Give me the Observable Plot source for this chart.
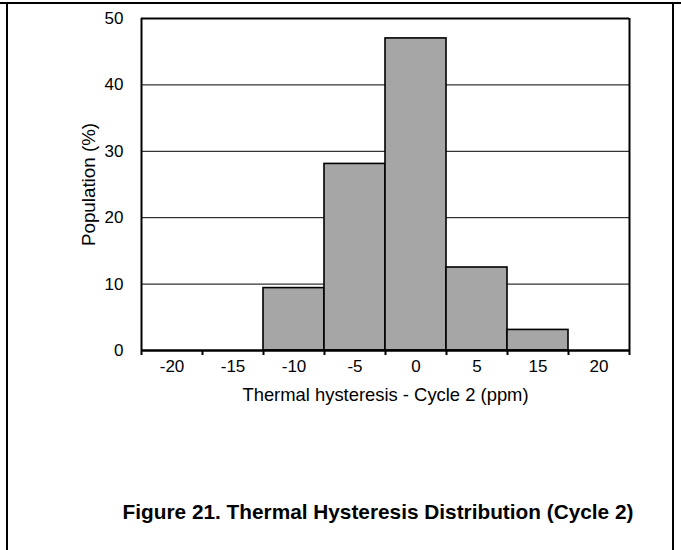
<!DOCTYPE html>
<html><head><meta charset="utf-8">
<script src="https://cdn.jsdelivr.net/npm/d3@7"></script>
<script src="https://cdn.jsdelivr.net/npm/@observablehq/plot@0.6"></script>
<style>
body{margin:0;background:#fff;font-family:"Liberation Sans",Arial,sans-serif;}
#page{position:absolute;left:0;top:0;width:681px;height:550px;overflow:hidden;}
#topline{position:absolute;left:0;top:2px;width:681px;height:0;border-top:2px solid #000;}
#border{position:absolute;left:6px;top:2px;width:668px;height:560px;box-sizing:border-box;border-left:2px solid #000;border-right:2px solid #000;}
#chart{position:absolute;left:0;top:0;}
#caption{position:absolute;left:0;width:756px;top:500px;text-align:center;font-weight:bold;font-size:20.8px;color:#000;}
</style></head>
<body>
<div id="page"><div id="topline"></div><div id="border"></div><div id="chart"></div><div id="caption">Figure 21. Thermal Hysteresis Distribution (Cycle 2)</div></div>
<script>
const categories = ["-20","-15","-10","-5","0","5","15","20"];
const population = [0, 0, 9.4, 28.1, 47.0, 12.5, 3.1, 0];
const yTicks = [0, 10, 20, 30, 40, 50];
const gridValues = [10, 20, 30, 40];

const data = categories.map((c, i) => ({cat: c, i, v: population[i]}));
const edges = d3.range(categories.length + 1);

const chart = Plot.plot({
  width: 681,
  height: 470,
  marginLeft: 141,
  marginRight: 52,
  marginTop: 18,
  marginBottom: 120,
  style: {fontFamily: "'Liberation Sans', Arial, sans-serif", fontSize: "17px", color: "#000", background: "transparent"},
  x: {type: "linear", domain: [0, categories.length], axis: null},
  y: {domain: [0, 50], axis: null},
  marks: [
    Plot.ruleY(gridValues, {stroke: "#000", strokeWidth: 1}),
    Plot.rectY(data.filter(d => d.v > 0), {x1: "i", x2: d => d.i + 1, y: "v", fill: "#a6a6a6", stroke: "#000", strokeWidth: 1.6}),
    Plot.ruleY([50], {stroke: "#000", strokeWidth: 2}),
    Plot.ruleX([categories.length], {stroke: "#000", strokeWidth: 2}),
    Plot.ruleX([0], {stroke: "#000", strokeWidth: 2}),
    Plot.ruleY([0], {stroke: "#000", strokeWidth: 2.5}),
    Plot.ruleX(edges, {x: d => d, y1: 0, y2: 0, insetBottom: -5, stroke: "#000", strokeWidth: 2}),
    Plot.text(data, {x: d => d.i + 0.5, y: 0, text: "cat", dy: 16, lineAnchor: "middle", fontSize: 17, fill: "#000"}),
    Plot.text(["Thermal hysteresis - Cycle 2 (ppm)"], {frameAnchor: "bottom", lineAnchor: "middle", dy: 45, fontSize: 18.4, text: d => d, fill: "#000"}),
    Plot.text(yTicks, {frameAnchor: "left", y: d => d, text: d => String(d), textAnchor: "end", dx: -18, lineAnchor: "middle", fontSize: 17, fill: "#000"}),
    Plot.text(["Population (%)"], {frameAnchor: "left", textAnchor: "middle", lineAnchor: "middle", dx: -53, rotate: -90, fontSize: 18.8, text: d => d, fill: "#000"})
  ]
});
document.getElementById("chart").appendChild(chart);
</script>
</body></html>
